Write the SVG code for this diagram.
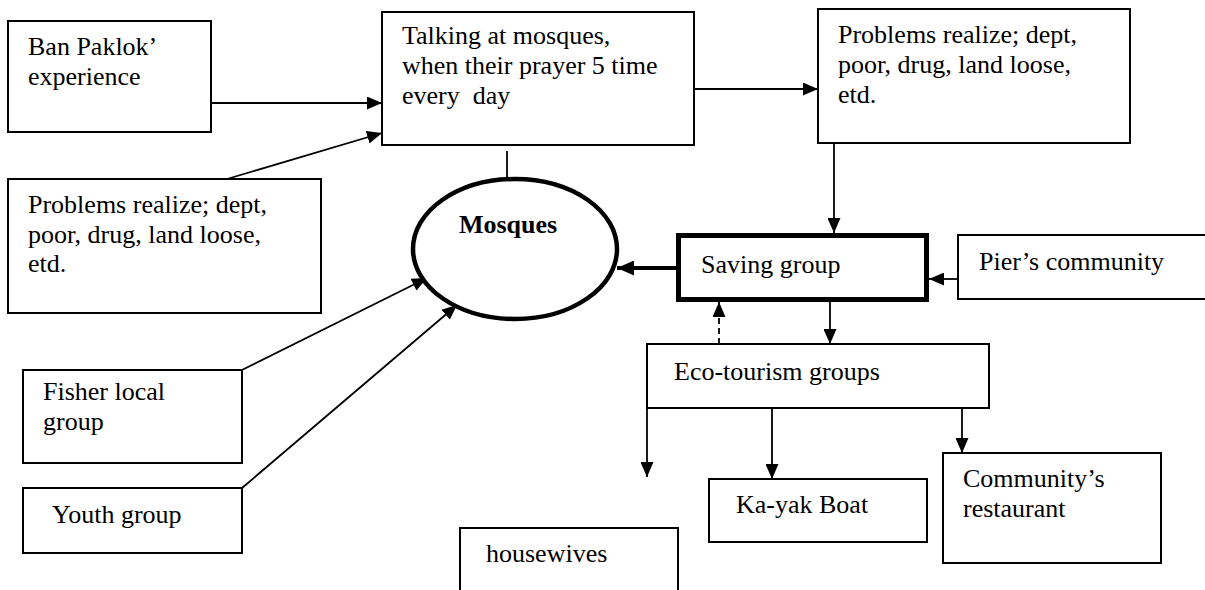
<svg xmlns="http://www.w3.org/2000/svg" width="1205" height="590" viewBox="0 0 1205 590">
<style>
.box{fill:#fff;stroke:#000;stroke-width:2}
.t{font-family:"Liberation Serif","Times New Roman",serif;font-size:26px;fill:#000}
.b{font-weight:bold}
.c{fill:none;stroke:#000;stroke-width:1.8}
</style>
<defs>
<marker id="arr" viewBox="0 0 15 13" refX="15" refY="6.5" markerWidth="15" markerHeight="13" markerUnits="userSpaceOnUse" orient="auto"><path d="M0,0 L15,6.5 L0,13 z" fill="#000"/></marker>
<marker id="arrBig" viewBox="0 0 17 15" refX="17" refY="7.5" markerWidth="17" markerHeight="15" markerUnits="userSpaceOnUse" orient="auto"><path d="M0,0 L17,7.5 L0,15 z" fill="#000"/></marker>
</defs>
<rect width="1205" height="590" fill="#fff"/>
<g id="connectors">
<line class="c" x1="211" y1="103" x2="382" y2="103" marker-end="url(#arr)"/>
<line class="c" x1="227" y1="179" x2="382" y2="133" marker-end="url(#arr)"/>
<line class="c" x1="694" y1="89" x2="818" y2="89" marker-end="url(#arr)"/>
<line class="c" x1="507" y1="151" x2="507" y2="177"/>
<line class="c" x1="834" y1="143" x2="834" y2="233" marker-end="url(#arr)"/>
<line fill="none" stroke="#000" stroke-width="4" x1="676" y1="268" x2="617" y2="268" marker-end="url(#arrBig)"/>
<line class="c" x1="958" y1="279" x2="929" y2="279" marker-end="url(#arr)"/>
<line class="c" x1="242" y1="370" x2="427" y2="278" marker-end="url(#arr)"/>
<line class="c" x1="242" y1="488" x2="457" y2="305" marker-end="url(#arr)"/>
<line class="c" x1="830" y1="302" x2="830" y2="344" marker-end="url(#arr)"/>
<line class="c" x1="719" y1="344" x2="719" y2="302" stroke-dasharray="6,4" marker-end="url(#arr)"/>
<line class="c" x1="647" y1="408" x2="647" y2="477" marker-end="url(#arr)"/>
<line class="c" x1="772" y1="407" x2="772" y2="479" marker-end="url(#arr)"/>
<line class="c" x1="962" y1="408" x2="962" y2="453" marker-end="url(#arr)"/>
</g>
<g id="ban-paklok">
<rect class="box" x="8" y="21" width="203" height="111"/>
<text class="t" x="28" y="55">Ban Paklok’</text>
<text class="t" x="28" y="85">experience</text>
</g>
<g id="talking">
<rect class="box" x="382" y="12" width="312" height="133"/>
<text class="t" x="402" y="44">Talking at mosques,</text>
<text class="t" x="402" y="74">when their prayer 5 time</text>
<text class="t" x="402" y="104" xml:space="preserve">every  day</text>
</g>
<g id="problems-right">
<rect class="box" x="818" y="9" width="312" height="134"/>
<text class="t" x="838" y="43">Problems realize; dept,</text>
<text class="t" x="838" y="73">poor, drug, land loose,</text>
<text class="t" x="838" y="103">etd.</text>
</g>
<g id="problems-left">
<rect class="box" x="8" y="179" width="313" height="134"/>
<text class="t" x="28" y="213">Problems realize; dept,</text>
<text class="t" x="28" y="243">poor, drug, land loose,</text>
<text class="t" x="28" y="272">etd.</text>
</g>
<g id="mosques">
<ellipse cx="515" cy="249" rx="102" ry="70" fill="#fff" stroke="#000" stroke-width="4.5"/>
<text class="t b" x="508" y="233" text-anchor="middle">Mosques</text>
</g>
<g id="saving">
<rect x="678.5" y="235.5" width="248" height="64" fill="#fff" stroke="#000" stroke-width="5"/>
<text class="t" x="701" y="273">Saving group</text>
</g>
<g id="pier">
<rect class="box" x="958" y="235" width="260" height="64"/>
<text class="t" x="979" y="270">Pier’s community</text>
</g>
<g id="fisher">
<rect class="box" x="23" y="370" width="219" height="93"/>
<text class="t" x="43" y="400">Fisher local</text>
<text class="t" x="43" y="430">group</text>
</g>
<g id="youth">
<rect class="box" x="23" y="488" width="219" height="65"/>
<text class="t" x="52" y="523">Youth group</text>
</g>
<g id="eco">
<rect class="box" x="647" y="344" width="342" height="64"/>
<text class="t" x="674" y="380">Eco-tourism groups</text>
</g>
<g id="kayak">
<rect class="box" x="709" y="479" width="218" height="63"/>
<text class="t" x="736" y="513">Ka-yak Boat</text>
</g>
<g id="restaurant">
<rect class="box" x="943" y="453" width="218" height="110"/>
<text class="t" x="963" y="487">Community’s</text>
<text class="t" x="963" y="517">restaurant</text>
</g>
<g id="housewives">
<rect class="box" x="460" y="528" width="218" height="80"/>
<text class="t" x="486" y="562">housewives</text>
</g>
</svg>
